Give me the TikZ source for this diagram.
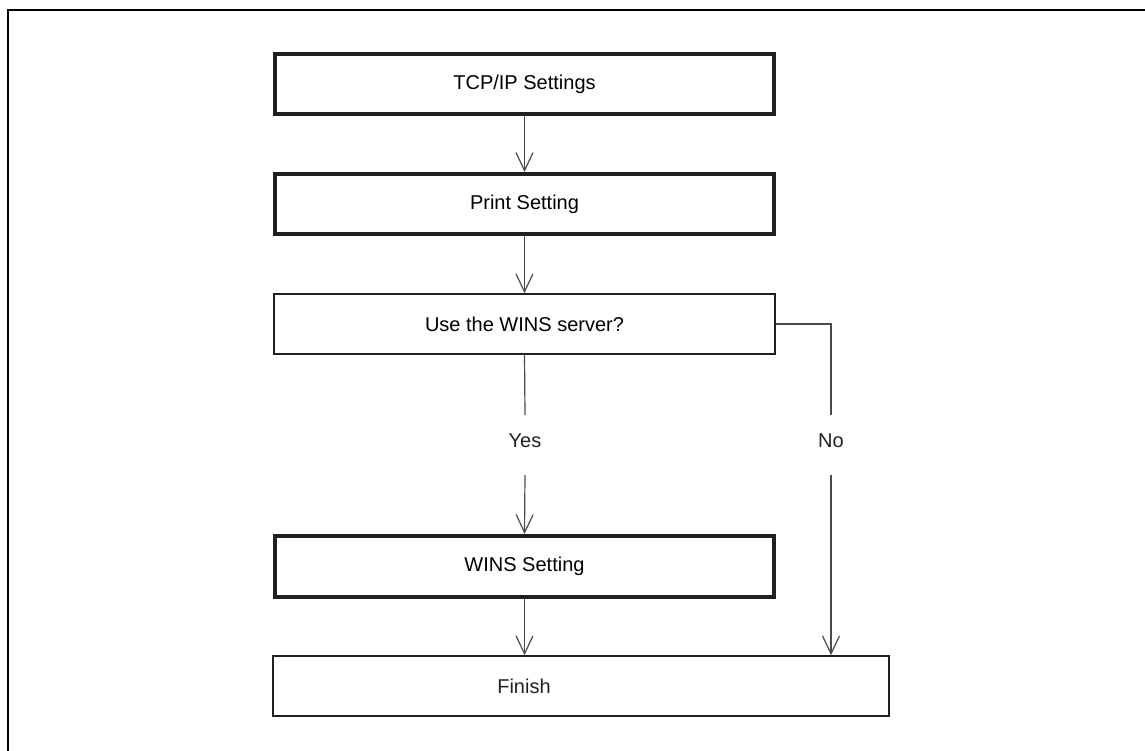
\documentclass[tikz,border=0pt]{standalone}
\usepackage{fontspec}
\setmainfont{Liberation Sans}
\usetikzlibrary{arrows.meta}
\definecolor{ink}{HTML}{231F20}
\definecolor{conngray}{HTML}{4A4A4A}
\begin{document}
\begin{tikzpicture}[x=1pt,y=-1pt,
  thickbox/.style={draw=ink, line width=4pt, minimum width=499pt, minimum height=60pt, inner sep=0pt, font=\fontsize{20}{24}\selectfont},
  thinbox/.style={draw=ink, line width=1.6pt, inner sep=0pt, minimum height=60pt, font=\fontsize{20}{24}\selectfont},
  lbl/.style={font=\fontsize{20}{24}\selectfont, text=ink, inner sep=0pt},
  conn/.style={draw=conngray, line width=1.2pt},
  arr/.style={conn, -{Straight Barb[length=18pt,width=17pt]}}]
\useasboundingbox (0,0) rectangle (1145,751);
\draw[line width=2pt] (8,751) -- (8,10) -- (1145,10);

\node[thickbox] (tcp) at (524.5,84) {TCP/IP Settings};
\node[thickbox] (prt) at (524.5,204) {Print Setting};
\node[thinbox, minimum width=501pt] (use) at (524.5,324) {Use the WINS server?};
\node[thickbox, minimum height=61pt] (wins) at (524.5,566.5) {WINS Setting};
\node[thinbox, minimum width=616pt] (fin) at (581,686) {};
\node[lbl] (fintext) at (524,686) {Finish};

\node[lbl] (yes) at (525,441) {Yes};
\node[lbl] (no) at (831,441) {No};

\coordinate (ya) at (525,415);
\coordinate (yb) at (525,475);
\coordinate (nc) at (831,324);
\coordinate (na) at (831,415);
\coordinate (nb) at (831,475);

\draw[arr] (tcp.south) -- (prt.north);
\draw[arr] (prt.south) -- (use.north);
\draw[conn] (use.south) -- (ya);
\draw[arr] (yb) -- (wins.north);
\draw[conn] (use.east) -- (nc) -- (na);
\draw[arr] (nb) -- (fin.north -| nb);
\draw[arr] (wins.south) -- (fin.north -| wins.south);
\end{tikzpicture}
\end{document}
